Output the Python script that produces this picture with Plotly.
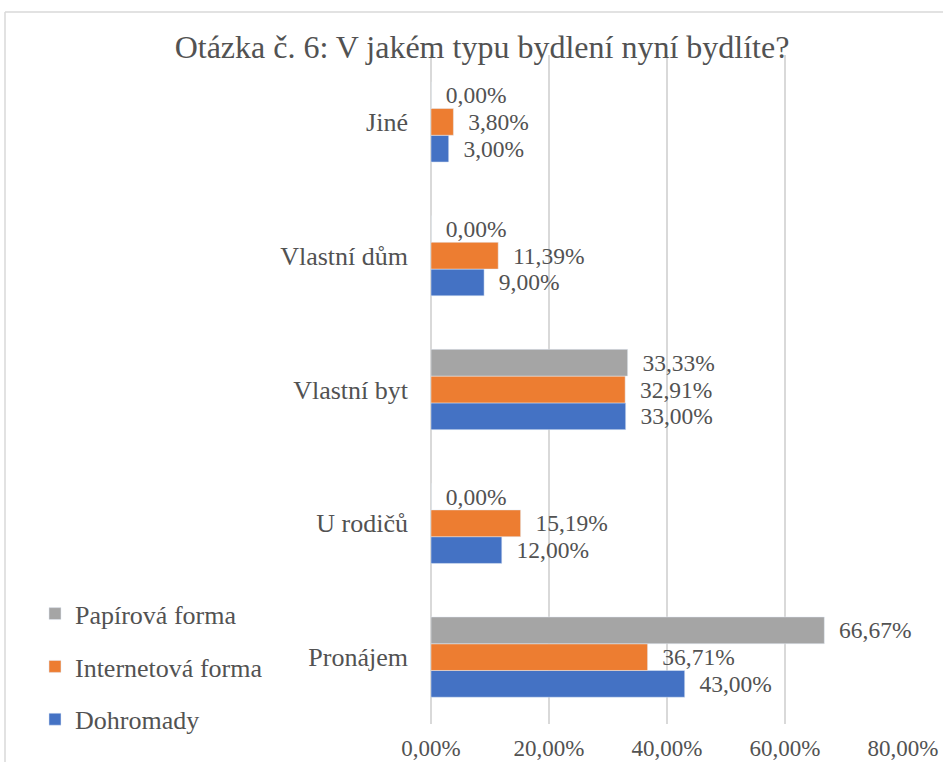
import plotly.graph_objects as go

categories = ["Pronájem", "U rodičů", "Vlastní byt", "Vlastní dům", "Jiné"]
dohromady = [0.43, 0.12, 0.33, 0.09, 0.03]
internetova = [0.3671, 0.1519, 0.3291, 0.1139, 0.038]
papirova = [0.6667, 0.0, 0.3333, 0.0, 0.0]
x_ticks = [0, 0.2, 0.4, 0.6, 0.8]

TEXT = "#525252"
FONT = "Liberation Serif"

# name, values, colour, position in legend
series = [
    ("Dohromady", dohromady, "#4472C4", 3),
    ("Internetová forma", internetova, "#ED7D31", 2),
    ("Papírová forma", papirova, "#A5A5A5", 1),
]

fig = go.Figure()
for name, vals, color, rank in series:
    fig.add_trace(go.Bar(
        y=categories, x=vals, name=name, orientation="h",
        marker=dict(color=color),
        legendgroup=name, legendrank=rank,
        texttemplate="  %{x:.2%}", textposition="outside",
        textfont=dict(family=FONT, size=23.5, color=TEXT),
        constraintext="none", cliponaxis=False,
    ))

fig.update_layout(
    width=943, height=762,
    margin=dict(l=431, r=40, t=55, b=38, autoexpand=False),
    paper_bgcolor="white", plot_bgcolor="white",
    separators=", ",
    barmode="group", bargap=0.4, bargroupgap=0,
    font=dict(family=FONT, size=22, color=TEXT),
    title=dict(text="Otázka č. 6: V jakém typu bydlení nyní bydlíte?",
               x=482 / 943, xanchor="center", y=1 - 47 / 762, yanchor="middle",
               font=dict(family=FONT, size=32, color=TEXT)),
    legend=dict(x=-0.839, xanchor="left", y=0.200, yanchor="top",
                traceorder="grouped", tracegroupgap=16,
                font=dict(family=FONT, size=26, color=TEXT),
                bgcolor="rgba(0,0,0,0)"),
    xaxis=dict(range=[0, 0.8], tickvals=x_ticks, tickformat=".2%",
               showgrid=True, gridcolor="#D9D9D9", gridwidth=1.5,
               zeroline=True, zerolinecolor="#D9D9D9", zerolinewidth=1.5,
               showline=False, ticklabelstandoff=8, automargin=False,
               tickfont=dict(family=FONT, size=23, color=TEXT)),
    yaxis=dict(showgrid=False, zeroline=False, showline=False,
               ticklabelstandoff=22, automargin=False,
               tickfont=dict(family=FONT, size=26, color=TEXT)),
    shapes=[
        # chart-area border (top and left edges visible in the crop)
        dict(type="line", xref="paper", yref="paper", x0=(5 - 431) / 472, x1=1.2,
             y0=(724 - 12) / 669, y1=(724 - 12) / 669, line=dict(color="#D9D9D9", width=1.5)),
        dict(type="line", xref="paper", yref="paper", x0=(5 - 431) / 472, x1=(5 - 431) / 472,
             y0=(724 - 12) / 669, y1=-0.2, line=dict(color="#D9D9D9", width=1.5)),
    ],
)

fig.write_html("out.html", config={"displayModeBar": False},
               post_script="document.body.style.margin='0';")
